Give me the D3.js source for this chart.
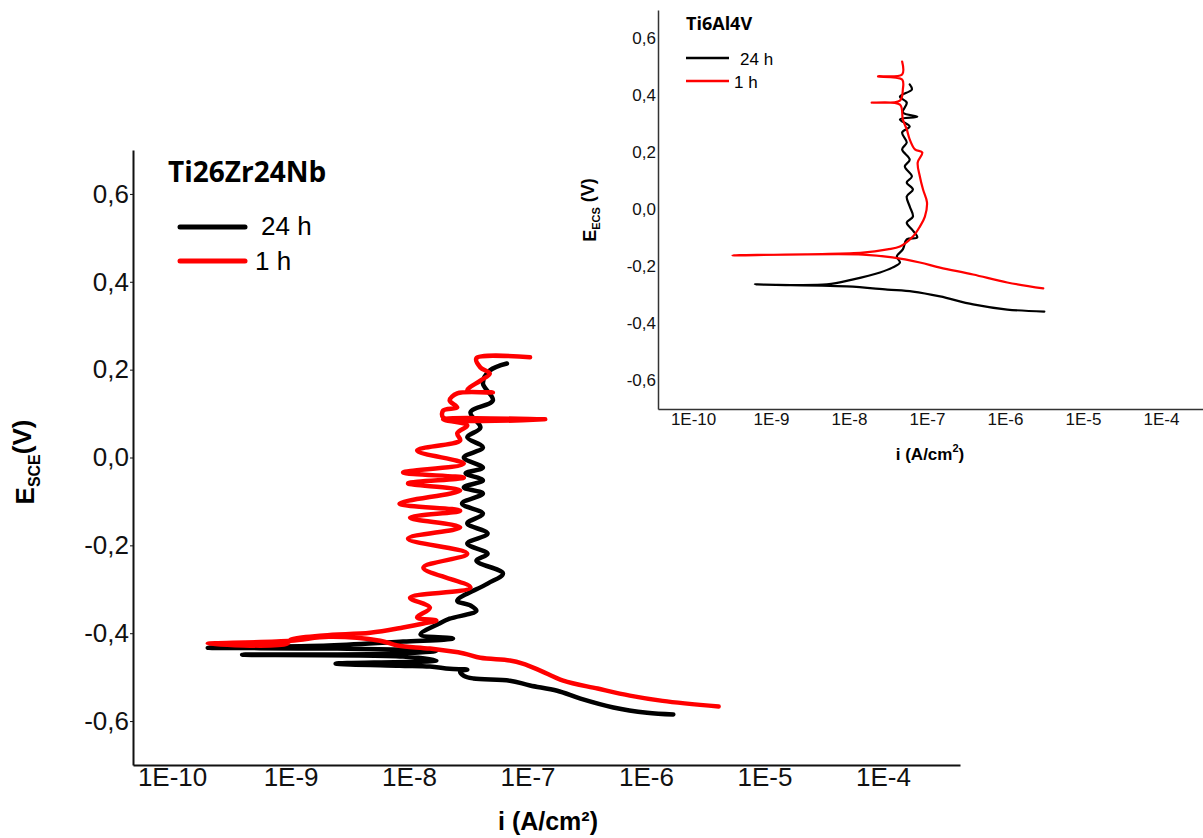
<!DOCTYPE html>
<html><head><meta charset="utf-8">
<script src="https://cdn.jsdelivr.net/npm/d3@7"></script>
<style>body{margin:0;background:#fff}svg{display:block}</style>
</head><body>
<svg id="c" width="1203" height="838"></svg>
<script>
// ---------- data ----------
const xTickValues = [1e-10, 1e-9, 1e-8, 1e-7, 1e-6, 1e-5, 1e-4];
const yTickValues = [-0.6, -0.4, -0.2, 0, 0.2, 0.4, 0.6];
const seriesNames = ["24 h", "1 h"];
const mainTitle = "Ti26Zr24Nb";
const insetTitle = "Ti6Al4V";

// Ti26Zr24Nb, 24 h (current A/cm², potential V)
const mainBlackI = [1.7e-6,1.02e-6,5.3e-7,2.8e-7,1.78e-7,1.05e-7,7.1e-8,3.5e-8,2.9e-8,2.7e-8,3.1e-8,2.2e-8,1.5e-8,8.3e-9,2.4e-9,1.7e-8,8.9e-9,3.9e-10,8.9e-9,1.7e-8,2.5e-9,2.0e-10,2.1e-9,8.9e-9,2.35e-8,1.25e-8,1.8e-8,2.2e-8,3.7e-8,3.3e-8,2.55e-8,4.6e-8,6.2e-8,3.7e-8,4.6e-8,3.1e-8,4.6e-8,3.1e-8,4.2e-8,2.8e-8,4.2e-8,2.9e-8,4.2e-8,3.0e-8,4.2e-8,2.9e-8,4.2e-8,3.1e-8,4.0e-8,3.3e-8,5.1e-8,4.2e-8,4.8e-8,6.7e-8];
const mainBlackE = [-0.585,-0.581,-0.569,-0.549,-0.531,-0.519,-0.508,-0.503,-0.497,-0.487,-0.483,-0.481,-0.476,-0.474,-0.469,-0.462,-0.453,-0.449,-0.446,-0.440,-0.435,-0.433,-0.428,-0.419,-0.412,-0.403,-0.378,-0.367,-0.349,-0.337,-0.326,-0.287,-0.264,-0.235,-0.219,-0.196,-0.173,-0.150,-0.128,-0.105,-0.082,-0.068,-0.052,-0.036,-0.023,0.000,0.023,0.046,0.068,0.103,0.130,0.169,0.198,0.214];

// Ti26Zr24Nb, 1 h
const mainRedI = [4.1e-6,1.38e-6,7.3e-7,3.9e-7,2.0e-7,1.28e-7,9.1e-8,7.1e-8,4.0e-8,2.9e-8,1.5e-8,8.0e-9,5.7e-9,2.1e-9,1.0e-9,2.0e-10,9.3e-10,1.0e-9,1.9e-9,4.7e-9,8.9e-9,1.32e-8,1.7e-8,1.17e-8,1.5e-8,1.02e-8,3.3e-8,1.32e-8,3.1e-8,9.8e-9,2.7e-8,1.02e-8,2.7e-8,8.3e-9,2.7e-8,9.8e-9,2.9e-8,8.9e-9,2.9e-8,1.17e-8,2.7e-8,2.55e-8,3.1e-8,1.94e-8,1.41e-7,1.94e-8,1.94e-8,2.55e-8,2.2e-8,2.55e-8,5.1e-8,3.1e-8,4.0e-8,4.8e-8,4.0e-8,3.7e-8,1.05e-7];
const mainRedE = [-0.567,-0.554,-0.542,-0.526,-0.508,-0.485,-0.469,-0.462,-0.456,-0.446,-0.435,-0.428,-0.417,-0.408,-0.417,-0.424,-0.424,-0.415,-0.405,-0.399,-0.387,-0.378,-0.371,-0.364,-0.342,-0.319,-0.296,-0.251,-0.219,-0.185,-0.159,-0.137,-0.121,-0.105,-0.075,-0.059,-0.046,-0.034,-0.014,0.016,0.039,0.055,0.073,0.087,0.087,0.091,0.107,0.114,0.130,0.146,0.148,0.153,0.175,0.191,0.205,0.226,0.228];

// Ti6Al4V, 24 h
const insetBlackI = [3.2e-6,1.07e-6,3.9e-7,1.47e-7,6.6e-8,3.1e-8,9.4e-9,6.2e-10,5.2e-9,1.1e-8,2.5e-8,3.6e-8,4.5e-8,4.1e-8,4.9e-8,5.5e-8,7.5e-8,6.4e-8,5.5e-8,6.6e-8,6.0e-8,5.5e-8,6.6e-8,5.5e-8,6.4e-8,5.2e-8,6.0e-8,4.8e-8,5.5e-8,4.8e-8,6.0e-8,4.5e-8,7.5e-8,4.9e-8,5.5e-8,4.5e-8,6.4e-8,6.0e-8];
const insetBlackE = [-0.358,-0.351,-0.333,-0.305,-0.288,-0.281,-0.270,-0.263,-0.263,-0.246,-0.221,-0.204,-0.186,-0.165,-0.140,-0.105,-0.098,-0.070,-0.046,-0.025,0.011,0.046,0.070,0.095,0.116,0.151,0.175,0.211,0.235,0.270,0.291,0.316,0.326,0.340,0.375,0.396,0.421,0.439];

// Ti6Al4V, 1 h
const insetRedI = [3.1e-6,1.07e-6,3.9e-7,1.47e-7,8.1e-8,3.6e-8,1.5e-8,3.2e-10,1.5e-8,3.1e-8,4.5e-8,6.6e-8,8.1e-8,9.4e-8,1.0e-7,8.9e-8,8.1e-8,7.6e-8,8.7e-8,7.0e-8,6.0e-8,5.5e-8,4.9e-8,4.5e-8,1.95e-8,4.5e-8,4.9e-8,4.8e-8,2.35e-8,4.8e-8,4.8e-8];
const insetRedE = [-0.277,-0.256,-0.228,-0.204,-0.186,-0.168,-0.158,-0.161,-0.151,-0.140,-0.130,-0.095,-0.060,-0.025,0.025,0.070,0.116,0.165,0.200,0.211,0.246,0.281,0.316,0.368,0.375,0.382,0.421,0.456,0.467,0.474,0.519];

// ---------- drawing ----------
const svg = d3.select("#c");
const FONT = "'Liberation Sans', Arial, sans-serif";
const BOLDT = "'Open Sans', 'Liberation Sans', sans-serif";
const zip = (I, E) => I.map((v, k) => ({ i: v, e: E[k] }));
const fmtX = d => "1E" + Math.round(Math.log10(d));
const fmtY = d => d3.format(".1f")(d).replace(".", ",").replace("−", "-");

function panel(cfg) {
  const x = d3.scaleLog().domain(cfg.xDom).range([cfg.left, cfg.right]);
  const y = d3.scaleLinear().domain([-0.7, 0.7]).range([cfg.bottom, cfg.top]);
  const g = svg.append("g");

  const xa = g.append("g").attr("transform", `translate(0,${cfg.bottom})`)
    .call(d3.axisBottom(x).tickValues(xTickValues).tickFormat(fmtX).tickSize(0).tickPadding(cfg.xPad));
  xa.select(".domain").attr("stroke", cfg.axisColor).attr("stroke-width", cfg.axisW);
  xa.selectAll("text").attr("font-family", FONT).attr("font-size", cfg.tickFont).attr("fill", "#111");

  const ya = g.append("g").attr("transform", `translate(${cfg.left},0)`)
    .call(d3.axisLeft(y).tickValues(yTickValues).tickFormat(fmtY).tickSize(cfg.yTick).tickSizeOuter(0).tickPadding(cfg.yPad));
  ya.select(".domain").attr("stroke", cfg.axisColor).attr("stroke-width", cfg.axisW);
  ya.selectAll(".tick line").attr("stroke", cfg.axisColor);
  ya.selectAll("text").attr("font-family", FONT).attr("font-size", cfg.tickFont).attr("fill", "#111");

  const line = d3.line().curve(d3.curveCatmullRom.alpha(0.5)).x(d => x(d.i)).y(d => y(d.e));
  cfg.series.forEach(s => {
    g.append("path").datum(s.data).attr("d", line)
      .attr("fill", "none").attr("stroke", s.color).attr("stroke-width", cfg.lineW)
      .attr("stroke-linejoin", "round").attr("stroke-linecap", "round");
  });
  return g;
}

// main chart
const mg = panel({
  xDom: [Math.pow(10, -10.33), Math.pow(10, -3.35)], left: 133, right: 960, top: 150, bottom: 765,
  axisColor: "#111", axisW: 2, tickFont: 26, xPad: 3, yPad: 1, yTick: 3, lineW: 4.5,
  series: [{ data: zip(mainBlackI, mainBlackE), color: "#000" }, { data: zip(mainRedI, mainRedE), color: "#ff0000" }]
});
mg.append("text").attr("x", 168).attr("y", 182).attr("font-family", BOLDT).attr("font-weight", 700)
  .attr("font-size", 28).text(mainTitle);
mg.append("line").attr("x1", 180).attr("x2", 245).attr("y1", 227).attr("y2", 227).attr("stroke", "#000").attr("stroke-width", 5).attr("stroke-linecap", "round");
mg.append("line").attr("x1", 180).attr("x2", 245).attr("y1", 261).attr("y2", 261).attr("stroke", "#ff0000").attr("stroke-width", 5).attr("stroke-linecap", "round");
mg.append("text").attr("x", 261).attr("y", 235).attr("font-family", FONT).attr("font-size", 26).text(seriesNames[0]);
mg.append("text").attr("x", 255).attr("y", 270).attr("font-family", FONT).attr("font-size", 26).text(seriesNames[1]);
// axis titles
mg.append("text").attr("x", 548).attr("y", 830).attr("text-anchor", "middle").attr("font-family", FONT)
  .attr("font-weight", 700).attr("font-size", 25).text("i (A/cm²)");
const yt = mg.append("text").attr("transform", "translate(34,462) rotate(-90)").attr("text-anchor", "middle")
  .attr("font-family", FONT).attr("font-weight", 700).attr("font-size", 26);
yt.append("tspan").text("E");
yt.append("tspan").attr("font-size", 16).attr("dy", "0.35em").text("SCE");
yt.append("tspan").attr("dy", "-0.35em").text("(V)");

// inset chart
const ig = panel({
  xDom: [Math.pow(10, -10.45), Math.pow(10, -3.46)], left: 658, right: 1203, top: 10, bottom: 409,
  axisColor: "#333", axisW: 1.5, tickFont: 17, xPad: 4, yPad: 2, yTick: 0, lineW: 2.2,
  series: [{ data: zip(insetBlackI, insetBlackE), color: "#000" }, { data: zip(insetRedI, insetRedE), color: "#ff0000" }]
});
ig.append("text").attr("x", 686).attr("y", 30).attr("font-family", BOLDT).attr("font-weight", 700)
  .attr("font-size", 18).text(insetTitle);
ig.append("line").attr("x1", 686).attr("x2", 729).attr("y1", 58).attr("y2", 58).attr("stroke", "#000").attr("stroke-width", 2.5);
ig.append("line").attr("x1", 686).attr("x2", 729).attr("y1", 81).attr("y2", 81).attr("stroke", "#ff0000").attr("stroke-width", 2.5);
ig.append("text").attr("x", 740).attr("y", 65).attr("font-family", FONT).attr("font-size", 17).text(seriesNames[0]);
ig.append("text").attr("x", 734).attr("y", 88).attr("font-family", FONT).attr("font-size", 17).text(seriesNames[1]);
const ixt = ig.append("text").attr("x", 930).attr("y", 460).attr("text-anchor", "middle").attr("font-family", FONT)
  .attr("font-weight", 700).attr("font-size", 17);
ixt.append("tspan").text("i (A/cm");
ixt.append("tspan").attr("font-size", 11).attr("dy", "-0.7em").text("2");
ixt.append("tspan").attr("dy", "0.45em").text(")");
const iyt = ig.append("text").attr("transform", "translate(596,210) rotate(-90)").attr("text-anchor", "middle")
  .attr("font-family", FONT).attr("font-weight", 700).attr("font-size", 18);
iyt.append("tspan").text("E");
iyt.append("tspan").attr("font-size", 11).attr("dy", "0.35em").text("ECS");
iyt.append("tspan").attr("dy", "-0.35em").text(" (V)");
</script>
</body></html>
